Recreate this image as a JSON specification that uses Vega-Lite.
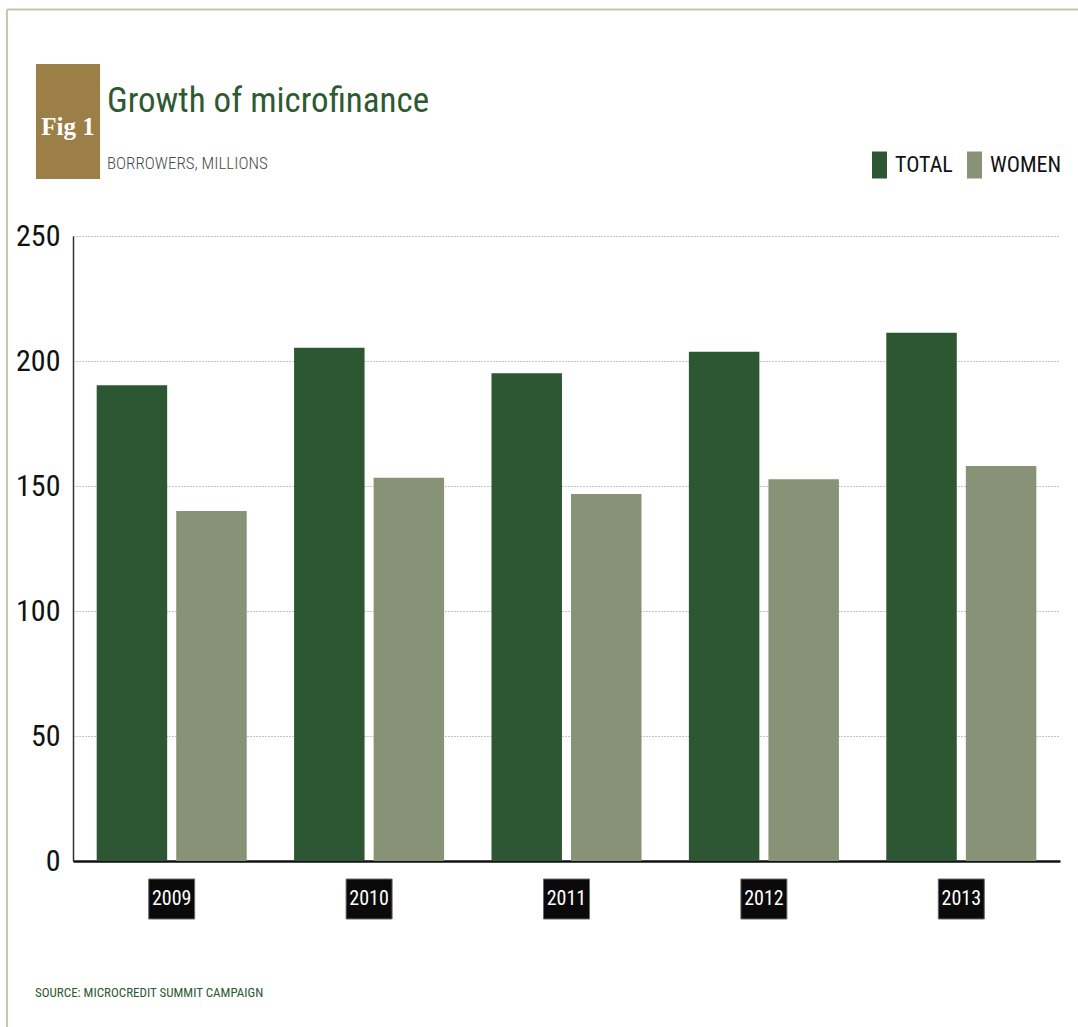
{
  "$schema": "https://vega.github.io/schema/vega-lite/v6.json",
  "width": 987,
  "height": 625,
  "autosize": {"type": "none"},
  "padding": {"left": 73, "top": 236, "right": 18, "bottom": 166},
  "background": "#ffffff",
  "config": {
    "view": {"stroke": null},
    "legend": {
      "orient": "none",
      "legendX": 793,
      "legendY": -84.5,
      "direction": "horizontal",
      "padding": 0,
      "symbolType": "M-0.556,-1H0.556V1H-0.556Z",
      "symbolSize": 729,
      "symbolStrokeWidth": 0,
      "symbolOpacity": 1,
      "labelFont": "Roboto Condensed, Roboto, sans-serif",
      "labelFontSize": 22,
      "labelColor": "#111111",
      "labelOffset": 2,
      "columnPadding": 8,
      "labelLimit": 200
    }
  },
  "data": {
    "values": [
      {"year": "2009", "series": "TOTAL", "borrowers": 190.3},
      {"year": "2009", "series": "WOMEN", "borrowers": 140.0},
      {"year": "2010", "series": "TOTAL", "borrowers": 205.3},
      {"year": "2010", "series": "WOMEN", "borrowers": 153.3},
      {"year": "2011", "series": "TOTAL", "borrowers": 195.1},
      {"year": "2011", "series": "WOMEN", "borrowers": 146.8},
      {"year": "2012", "series": "TOTAL", "borrowers": 203.7},
      {"year": "2012", "series": "WOMEN", "borrowers": 152.7},
      {"year": "2013", "series": "TOTAL", "borrowers": 211.3},
      {"year": "2013", "series": "WOMEN", "borrowers": 158.0}
    ]
  },
  "resolve": {"scale": {"x": "independent"}},
  "layer": [
    {
      "layer": [
        {
          "mark": {"type": "bar"},
          "encoding": {
            "x": {
              "field": "year", "type": "nominal",
              "scale": {"paddingInner": 0.24, "paddingOuter": 0.12},
              "axis": {"labels": false, "ticks": false, "grid": false, "title": null, "domain": true, "domainColor": "#111111", "domainWidth": 2.5}
            },
            "xOffset": {
              "field": "series", "type": "nominal",
              "scale": {"paddingInner": 0.114, "paddingOuter": 0}
            },
            "y": {
              "field": "borrowers", "type": "quantitative",
              "scale": {"domain": [0, 250], "nice": false},
              "axis": {
                "values": [0, 50, 100, 150, 200, 250],
                "title": null,
                "ticks": false,
                "domainColor": "#333333",
                "domainWidth": 1.5,
                "labelFont": "Roboto Condensed, Roboto, sans-serif",
                "labelFontSize": 30,
                "labelColor": "#111111",
                "labelPadding": 13,
                "grid": true,
                "gridDash": [1, 2],
                "gridColor": "#8a8a8a",
                "gridWidth": 1
              }
            },
            "color": {
              "field": "series", "type": "nominal",
              "scale": {"domain": ["TOTAL", "WOMEN"], "range": ["#2d5633", "#879276"]},
              "legend": {"title": null}
            }
          }
        },
        {
          "transform": [{"filter": "datum.series === 'TOTAL'"}],
          "mark": {"type": "bar", "width": 46, "color": "#0a0a0a", "stroke": "#6a6a6a", "strokeWidth": 1},
          "encoding": {
            "x": {"field": "year", "type": "nominal", "scale": {"paddingInner": 0.24, "paddingOuter": 0.12}},
            "y": {"datum": -7.2, "scale": {"domain": [0, 250], "nice": false}},
            "y2": {"datum": -23.2}
          }
        },
        {
          "transform": [{"filter": "datum.series === 'TOTAL'"}],
          "mark": {"type": "text", "font": "Roboto Condensed, Roboto, sans-serif", "fontSize": 20, "fontWeight": "normal", "color": "#ffffff", "align": "center", "baseline": "middle"},
          "encoding": {
            "x": {"field": "year", "type": "nominal", "scale": {"paddingInner": 0.24, "paddingOuter": 0.12}},
            "y": {"datum": -15.2, "scale": {"domain": [0, 250], "nice": false}},
            "text": {"field": "year"}
          }
        }
      ]
    },
    {
      "data": {"values": [{}]},
      "layer": [
        {
          "mark": {"type": "rule", "color": "#cdc4ad", "strokeWidth": 2},
          "encoding": {
            "x": {"datum": -6.69, "type": "quantitative", "scale": {"domain": [0, 100], "nice": false, "zero": false}, "axis": null},
            "x2": {"datum": 102},
            "y": {"datum": 340.6, "scale": {"domain": [0, 250], "nice": false}}
          }
        },
        {
          "mark": {"type": "rule", "color": "#cdc4ad", "strokeWidth": 2},
          "encoding": {
            "x": {"datum": -6.69, "type": "quantitative", "scale": {"domain": [0, 100], "nice": false, "zero": false}, "axis": null},
            "y": {"datum": 340.6, "scale": {"domain": [0, 250], "nice": false}},
            "y2": {"datum": -70}
          }
        },
        {
          "mark": {"type": "rect", "color": "#9b7f47"},
          "encoding": {
            "x": {"datum": -3.75, "type": "quantitative", "scale": {"domain": [0, 100], "nice": false, "zero": false}, "axis": null},
            "x2": {"datum": 2.74},
            "y": {"datum": 318.8, "scale": {"domain": [0, 250], "nice": false}},
            "y2": {"datum": 272.8}
          }
        },
        {
          "mark": {"type": "text", "text": "Fig 1", "font": "Liberation Serif", "fontSize": 25, "fontWeight": "bold", "color": "#ffffff", "align": "center", "baseline": "alphabetic"},
          "encoding": {
            "x": {"datum": -0.51, "type": "quantitative", "scale": {"domain": [0, 100], "nice": false, "zero": false}, "axis": null},
            "y": {"datum": 290.4, "scale": {"domain": [0, 250], "nice": false}}
          }
        },
        {
          "mark": {"type": "text", "text": "Growth of microfinance", "font": "Roboto Condensed, Roboto, sans-serif", "fontSize": 35, "color": "#2e5a31", "align": "left", "baseline": "alphabetic"},
          "encoding": {
            "x": {"datum": 3.44, "type": "quantitative", "scale": {"domain": [0, 100], "nice": false, "zero": false}, "axis": null},
            "y": {"datum": 299.6, "scale": {"domain": [0, 250], "nice": false}}
          }
        },
        {
          "mark": {"type": "text", "text": "BORROWERS, MILLIONS", "font": "Roboto Condensed, Roboto, sans-serif", "fontSize": 17, "fontWeight": 300, "color": "#4a4a4a", "align": "left", "baseline": "alphabetic"},
          "encoding": {
            "x": {"datum": 3.44, "type": "quantitative", "scale": {"domain": [0, 100], "nice": false, "zero": false}, "axis": null},
            "y": {"datum": 276.7, "scale": {"domain": [0, 250], "nice": false}}
          }
        },
        {
          "mark": {"type": "text", "text": "SOURCE: MICROCREDIT SUMMIT CAMPAIGN", "font": "Roboto Condensed, Roboto, sans-serif", "fontSize": 13, "fontWeight": "normal", "color": "#2e5a31", "align": "left", "baseline": "alphabetic"},
          "encoding": {
            "x": {"datum": -3.85, "type": "quantitative", "scale": {"domain": [0, 100], "nice": false, "zero": false}, "axis": null},
            "y": {"datum": -54.3, "scale": {"domain": [0, 250], "nice": false}}
          }
        }
      ]
    }
  ]
}
